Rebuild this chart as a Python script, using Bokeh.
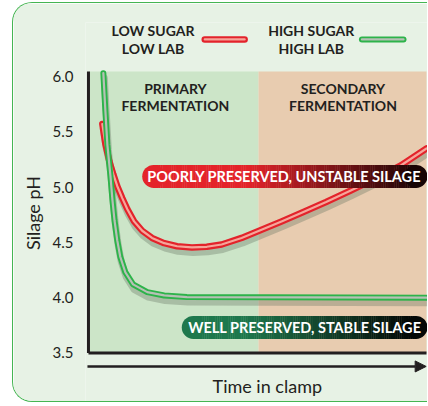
import math
from bokeh.plotting import figure
from bokeh.models import FixedTicker, Title, Arrow, NormalHead
from bokeh.core.properties import value
from bokeh.embed import file_html
from bokeh.resources import INLINE

# ---------------- data ----------------
time_low = [0.41, 0.50, 0.62, 0.74, 0.85, 1.00, 1.15, 1.35, 1.59, 1.88, 2.24, 2.62,
            3.06, 3.50, 3.94, 4.53, 5.03, 5.71, 6.29, 7.03, 7.76, 8.50, 9.24, 10.0]
ph_low = [5.57, 5.39, 5.23, 5.11, 5.01, 4.90, 4.80, 4.69, 4.605, 4.54, 4.493, 4.465,
          4.454, 4.460, 4.481, 4.540, 4.603, 4.689, 4.766, 4.865, 4.969, 5.078, 5.195, 5.349]

time_high = [0.44, 0.50, 0.56, 0.65, 0.71, 0.77, 0.85, 0.94, 1.09, 1.32, 1.74, 2.24, 2.91, 10.0]
ph_high = [6.03, 5.69, 5.38, 5.10, 4.88, 4.70, 4.52, 4.37, 4.23, 4.12, 4.05, 4.02, 4.005, 4.0]

series_low = ["LOW SUGAR", "LOW LAB"]
series_high = ["HIGH SUGAR", "HIGH LAB"]
phase_names = [["PRIMARY", "FERMENTATION"], ["SECONDARY", "FERMENTATION"]]
phase_bounds = [0.0, 5.03, 10.0]
phase_colors = ["#cce5c8", "#e8ccb0"]
ph_ticks = [3.5, 4.0, 4.5, 5.0, 5.5, 6.0]
ph_tick_labels = ["3.5", "4.0", "4.5", "5.0", "5.5", "6.0"]
outcome_low = "POORLY PRESERVED, UNSTABLE SILAGE"
outcome_high = "WELL PRESERVED, STABLE SILAGE"
x_title = "Time in clamp"
y_title = "Silage pH"

# ---------------- styling ----------------
CARD = "#e7f2e5"
INK = "#231f20"
RED = "#e3232b"
RED_IN = "#f6a59a"
GREEN = "#2db34a"
GREEN_IN = "#b7c0b6"
FONT = value("Lato")
PX_Y = 110.6   # pixels per pH unit
PX_X = 34.0    # pixels per time unit

p = figure(width=415, height=400,
           x_range=(-0.088, 10.059), y_range=(3.043, 6.488),
           x_axis_location=None, y_axis_location="left",
           output_backend="svg", toolbar_location=None,
           min_border_left=70, min_border_right=0, min_border_top=19, min_border_bottom=0,
           background_fill_color=CARD, border_fill_color=CARD,
           styles={"margin": "1.5px 0 0 11.5px", "border": "1.5px solid #45b552",
                   "border-right": "none", "border-radius": "20px 0 0 20px",
                   "overflow": "hidden"})
p.outline_line_color = None
p.grid.grid_line_color = None

ax = p.yaxis[0]
ax.ticker = FixedTicker(ticks=ph_ticks)
ax.major_label_overrides = {t: l for t, l in zip(ph_ticks, ph_tick_labels)}
ax.axis_line_color = None
ax.major_tick_line_color = None
ax.minor_tick_line_color = None
ax.major_label_standoff = 6
ax.major_label_text_font = "Lato"
ax.major_label_text_font_size = "15px"
ax.major_label_text_color = INK

p.add_layout(Title(text=y_title, align="center", offset=-5, standoff=12,
                   text_font="Lato", text_font_size="18px", text_font_style="normal",
                   text_color=INK), "left")

top_shade = 6.045
# phase background
p.quad(left=phase_bounds[:-1], right=phase_bounds[1:], bottom=ph_ticks[0], top=top_shade,
       fill_color=phase_colors, line_color=None)

# axis lines
p.line([0, 0], [ph_ticks[0], top_shade], line_color=INK, line_width=3)
p.line([0, phase_bounds[-1]], [ph_ticks[0], ph_ticks[0]], line_color=INK, line_width=3)

# time arrow
arrow_y = 3.378
p.add_layout(Arrow(end=NormalHead(size=11, fill_color=INK, line_color=INK, line_width=1),
                   x_start=-0.03, y_start=arrow_y, x_end=9.99, y_end=arrow_y,
                   line_color=INK, line_width=2.5))

# phase labels
for i, names in enumerate(phase_names):
    xc = [2.57, 7.53][i]
    p.text(x=[xc, xc], y=[5.892, 5.738], text=names, text_font=FONT,
           text_font_style="bold", text_font_size="14px", text_color=INK,
           text_align="center", text_baseline="middle")

# shadows
dy = 5 / PX_Y
dx = 1 / PX_X
for tx, ty in [(time_low, ph_low), (time_high, ph_high)]:
    p.line([t + dx for t in tx], [v - dy for v in ty], line_color="#5d6e5a", line_alpha=0.33,
           line_width=7, line_cap="round", line_join="round")

# curves
p.line(time_low, ph_low, line_color=RED, line_width=6.5, line_cap="round", line_join="round")
p.line(time_low, ph_low, line_color=RED_IN, line_width=2.2, line_cap="round", line_join="round")
p.line(time_high, ph_high, line_color=GREEN, line_width=6, line_cap="round", line_join="round")
p.line(time_high, ph_high, line_color=GREEN_IN, line_width=2.2, line_cap="round", line_join="round")

# legend
leg_y = 6.335
p.text(x=[1.91, 1.91], y=[6.416, 6.253], text=series_low, text_font=FONT,
       text_font_style="bold", text_font_size="14px", text_color=INK,
       text_align="center", text_baseline="middle")
p.text(x=[6.59, 6.59], y=[6.416, 6.253], text=series_high, text_font=FONT,
       text_font_style="bold", text_font_size="14px", text_color=INK,
       text_align="center", text_baseline="middle")
p.line([3.44, 4.62], [leg_y, leg_y], line_color=RED, line_width=6.5, line_cap="round")
p.line([3.44, 4.62], [leg_y, leg_y], line_color=RED_IN, line_width=2.2, line_cap="round")
p.line([8.09, 9.32], [leg_y, leg_y], line_color=GREEN, line_width=6, line_cap="round")
p.line([8.09, 9.32], [leg_y, leg_y], line_color=GREEN_IN, line_width=2.2, line_cap="round")


# gradient pills
def mix(c0, c1, f):
    return "#%02x%02x%02x" % tuple(int(round(a + (b - a) * f)) for a, b in zip(c0, c1))


def pill(x0, x1, yc, c0, c1, fade0, fade1, text, text_x, h_px=23, n=120):
    half = h_px / 2 / PX_Y
    lefts, rights, cols = [], [], []
    for i in range(n):
        a = x0 + (x1 - x0) * i / n
        b = x0 + (x1 - x0) * (i + 1) / n + 0.01
        m = (a + b) / 2
        f = min(1.0, max(0.0, (m - fade0) / (fade1 - fade0)))
        lefts.append(a); rights.append(b); cols.append(mix(c0, c1, f))
    p.quad(left=lefts, right=rights, bottom=yc - half, top=yc + half,
           fill_color=cols, line_color=None)
    p.scatter([x0, x1], [yc, yc], size=h_px, marker="circle",
              fill_color=[mix(c0, c1, 0), mix(c0, c1, 1)], line_color=None)
    p.text(x=[text_x], y=[yc], text=[text], text_font=FONT, text_font_style="bold",
           text_font_size="14.5px", text_color="white", text_align="center",
           text_baseline="middle")


pill(1.93, 9.69, 5.096, (228, 35, 42), (22, 4, 4), 4.7, 9.8, outcome_low, 5.79)
pill(3.10, 9.69, 3.731, (30, 120, 77), (4, 8, 6), 4.6, 9.5, outcome_high, 6.40)

# x title
p.text(x=[5.29], y=[3.197], text=[x_title], text_font=FONT, text_font_size="18px",
       text_color=INK, text_align="center", text_baseline="middle")

open("out.html", "w").write(file_html(p, INLINE))
